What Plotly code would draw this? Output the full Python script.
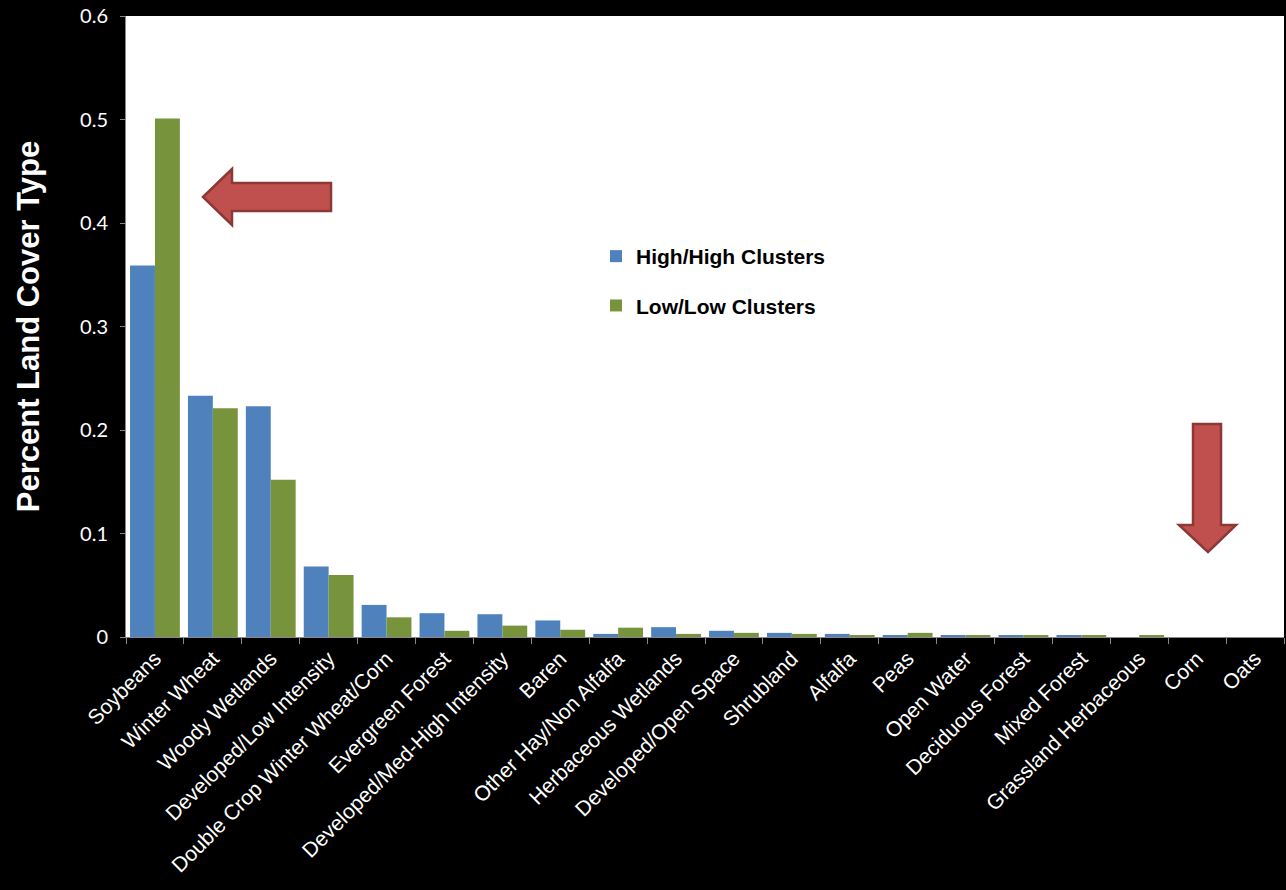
import plotly.graph_objects as go

categories = ["Soybeans", "Winter Wheat", "Woody Wetlands", "Developed/Low Intensity",
              "Double Crop Winter Wheat/Corn", "Evergreen Forest", "Developed/Med-High Intensity",
              "Baren", "Other Hay/Non Alfalfa", "Herbaceous Wetlands", "Developed/Open Space",
              "Shrubland", "Alfalfa", "Peas", "Open Water", "Deciduous Forest", "Mixed Forest",
              "Grassland Herbaceous", "Corn", "Oats"]
high_high = [0.359, 0.233, 0.223, 0.068, 0.031, 0.023, 0.022, 0.016, 0.003, 0.0095, 0.006,
             0.004, 0.003, 0.001, 0.001, 0.001, 0.001, 0.0, 0.0, 0.0]
low_low = [0.501, 0.221, 0.152, 0.060, 0.019, 0.006, 0.011, 0.007, 0.009, 0.003, 0.004,
           0.003, 0.001, 0.004, 0.001, 0.001, 0.001, 0.001, 0.0, 0.0]
y_ticks = [0, 0.1, 0.2, 0.3, 0.4, 0.5, 0.6]
y_tick_text = ["0", "0.1", "0.2", "0.3", "0.4", "0.5", "0.6"]

W, H = 1286, 890
L, R, T, B = 126, 2, 16, 253
pw, ph = W - L - R, H - T - B

def px(x):
    return (x - L) / pw

def py(y):
    return 1 - (y - T) / ph

fig = go.Figure()
fig.add_trace(go.Bar(x=categories, y=high_high, name="<b>High/High Clusters</b>",
                     marker=dict(color="#4F81BD", line=dict(width=0)), legendgroup="a"))
fig.add_trace(go.Bar(x=categories, y=low_low, name="<b>Low/Low Clusters</b>",
                     marker=dict(color="#77933C", line=dict(width=0)), legendgroup="b"))

def path(points):
    return "M " + " L ".join(f"{px(a):.5f},{py(b):.5f}" for a, b in points) + " Z"

left_arrow = [(203, 197), (232, 169), (232, 183), (331, 183), (331, 211), (232, 211), (232, 225)]
down_arrow = [(1193, 424), (1221, 424), (1221, 525), (1236, 525), (1208, 552), (1179, 525), (1193, 525)]
for pts in (left_arrow, down_arrow):
    fig.add_shape(type="path", xref="paper", yref="paper", path=path(pts),
                  fillcolor="#C0504D", line=dict(color="#8C3836", width=2.5))

fig.update_layout(
    width=W, height=H,
    paper_bgcolor="black", plot_bgcolor="white",
    margin=dict(l=L, r=R, t=T, b=B),
    barmode="group", bargap=0.14, bargroupgap=0,
    showlegend=True,
    legend=dict(x=px(596), y=py(236), xanchor="left", yanchor="top",
                bgcolor="rgba(0,0,0,0)", traceorder="grouped", tracegroupgap=19,
                font=dict(family="Liberation Sans, Arial", size=21, color="black"),
                itemwidth=30),
    font=dict(family="Liberation Sans, Arial", color="white"),
)
fig.update_xaxes(
    type="category", tickangle=-45, tickson="boundaries",
    ticks="outside", ticklen=6, tickcolor="#888888",
    showline=True, linecolor="#888888", linewidth=1,
    showgrid=False, range=[-0.5, 19.5],
    tickfont=dict(family="Liberation Sans, Arial", size=21, color="white"),
)
fig.update_yaxes(
    range=[0, 0.6], tickvals=y_ticks, ticktext=y_tick_text,
    ticks="outside", ticklen=5, tickcolor="#888888",
    showline=True, linecolor="#888888", linewidth=1,
    showgrid=False, zeroline=False, ticklabelstandoff=8,
    tickfont=dict(family="Lato, Open Sans", size=20, color="white"),
    title=dict(text="<b>Percent Land Cover Type</b>", standoff=31,
               font=dict(family="Liberation Sans, Arial", size=31, color="white")),
)

fig.write_html("out.html")
